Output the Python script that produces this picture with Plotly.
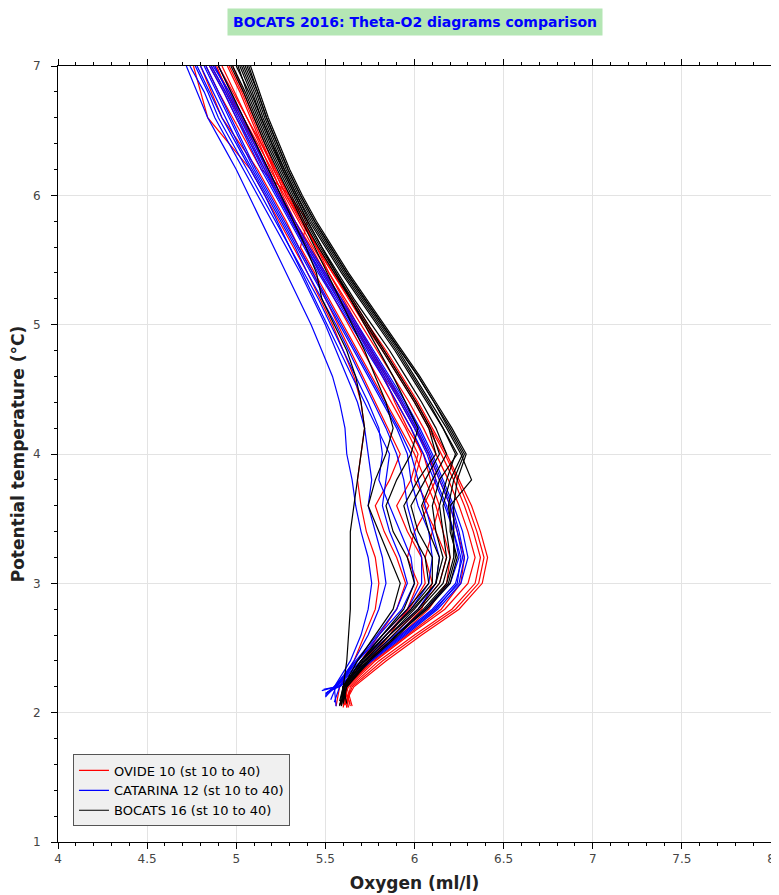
import plotly.graph_objects as go

# Potential temperature levels (deg C) shared by all profiles; the last point of each
# profile uses its own bottom temperature.
THETA_LEVELS = [7.0, 6.8, 6.6, 6.4, 6.2, 6.0, 5.8, 5.6, 5.4, 5.2, 5.0, 4.8, 4.6,
                4.4, 4.2, 4.0, 3.8, 3.6, 3.4, 3.2, 3.0, 2.8, 2.6, 2.4, 2.2]

# ---------------- OVIDE 10 (red) ----------------
OVIDE_BOTTOM = [2.05, 2.04, 2.06, 2.05, 2.04, 2.07, 2.05, 2.04, 2.06, 2.05, 2.06, 2.04]
OVIDE_O2 = [
    [4.98, 5.04, 5.10, 5.16, 5.22, 5.29, 5.37, 5.46, 5.55, 5.65, 5.74, 5.84, 5.93, 6.02, 6.10, 6.18, 6.25, 6.32, 6.37, 6.41, 6.38, 6.25, 6.04, 5.84, 5.66, 5.60],
    [4.95, 5.02, 5.08, 5.14, 5.21, 5.28, 5.36, 5.45, 5.54, 5.63, 5.72, 5.82, 5.91, 6.00, 6.08, 6.15, 6.22, 6.28, 6.33, 6.37, 6.34, 6.21, 6.00, 5.80, 5.64, 5.62],
    [4.92, 4.99, 5.06, 5.13, 5.19, 5.27, 5.35, 5.43, 5.52, 5.61, 5.70, 5.79, 5.88, 5.97, 6.05, 6.12, 6.19, 6.25, 6.30, 6.34, 6.30, 6.17, 5.97, 5.78, 5.63, 5.58],
    [4.88, 4.96, 5.04, 5.12, 5.20, 5.26, 5.33, 5.41, 5.50, 5.59, 5.67, 5.76, 5.85, 5.93, 6.01, 6.08, 6.12, 6.05, 6.12, 6.18, 6.14, 6.02, 5.88, 5.74, 5.61, 5.64],
    [4.85, 4.93, 5.00, 5.08, 5.16, 5.24, 5.31, 5.39, 5.47, 5.55, 5.63, 5.71, 5.79, 5.87, 5.95, 6.02, 5.98, 5.90, 5.96, 6.04, 6.06, 5.97, 5.84, 5.72, 5.60, 5.62],
    [4.80, 4.86, 4.92, 5.02, 5.12, 5.20, 5.28, 5.35, 5.43, 5.50, 5.57, 5.64, 5.71, 5.78, 5.85, 5.92, 5.86, 5.78, 5.83, 5.90, 5.95, 5.90, 5.80, 5.70, 5.60, 5.64],
    [4.76, 4.80, 4.84, 4.96, 5.08, 5.16, 5.24, 5.32, 5.40, 5.47, 5.54, 5.60, 5.66, 5.70, 5.72, 5.70, 5.68, 5.70, 5.73, 5.78, 5.80, 5.78, 5.72, 5.66, 5.58, 5.56],
    [4.90, 4.98, 5.06, 5.14, 5.22, 5.30, 5.38, 5.45, 5.52, 5.60, 5.68, 5.76, 5.84, 5.92, 6.00, 6.08, 6.14, 6.20, 6.24, 6.28, 6.26, 6.15, 5.96, 5.77, 5.62, 5.60],
    [4.86, 4.94, 5.02, 5.10, 5.18, 5.25, 5.32, 5.40, 5.49, 5.57, 5.66, 5.74, 5.82, 5.90, 5.98, 6.04, 6.00, 6.08, 6.00, 5.96, 6.02, 5.96, 5.86, 5.74, 5.62, 5.60],
    [4.83, 4.90, 4.98, 5.06, 5.14, 5.30, 5.40, 5.36, 5.44, 5.52, 5.60, 5.68, 5.76, 5.84, 5.92, 6.00, 6.06, 6.12, 6.16, 6.20, 6.18, 6.08, 5.92, 5.76, 5.62, 5.65],
    [4.96, 5.03, 5.09, 5.15, 5.21, 5.28, 5.37, 5.45, 5.54, 5.64, 5.73, 5.83, 5.92, 6.01, 6.09, 6.17, 6.24, 6.30, 6.35, 6.39, 6.36, 6.23, 6.02, 5.82, 5.65, 5.61],
    [4.89, 4.95, 5.03, 5.11, 5.17, 5.24, 5.33, 5.42, 5.50, 5.58, 5.66, 5.75, 5.83, 5.89, 5.96, 6.05, 6.09, 6.14, 6.10, 6.06, 6.10, 6.04, 5.90, 5.75, 5.61, 5.63],
]

# ---------------- CATARINA 12 (blue) ----------------
CATARINA_BOTTOM = [2.17, 2.15, 2.18, 2.12, 2.16, 2.05, 2.14, 2.17, 2.08, 2.13, 2.16, 2.10]
CATARINA_O2 = [
    [4.90, 4.97, 5.04, 5.11, 5.18, 5.25, 5.33, 5.41, 5.50, 5.59, 5.68, 5.77, 5.86, 5.95, 6.03, 6.10, 6.16, 6.22, 6.27, 6.30, 6.26, 6.13, 5.95, 5.76, 5.58, 5.52],
    [4.88, 4.95, 5.02, 5.09, 5.16, 5.23, 5.31, 5.39, 5.48, 5.57, 5.66, 5.75, 5.84, 5.93, 6.01, 6.08, 6.14, 6.20, 6.24, 6.27, 6.23, 6.10, 5.92, 5.74, 5.57, 5.50],
    [4.85, 4.93, 5.00, 5.07, 5.14, 5.22, 5.30, 5.38, 5.46, 5.55, 5.64, 5.73, 5.82, 5.90, 5.98, 6.05, 6.11, 6.17, 6.22, 6.25, 6.20, 6.06, 5.89, 5.72, 5.56, 5.49],
    [4.83, 4.90, 4.97, 5.04, 5.11, 5.19, 5.27, 5.35, 5.43, 5.51, 5.59, 5.67, 5.75, 5.83, 5.91, 5.98, 6.02, 6.06, 6.10, 6.14, 6.12, 6.02, 5.86, 5.70, 5.55, 5.50],
    [4.80, 4.87, 4.94, 5.01, 5.09, 5.17, 5.25, 5.33, 5.40, 5.48, 5.56, 5.63, 5.70, 5.77, 5.84, 5.90, 5.94, 5.96, 6.00, 6.04, 6.04, 5.96, 5.82, 5.68, 5.55, 5.52],
    [4.78, 4.85, 4.92, 5.00, 5.08, 5.16, 5.23, 5.30, 5.37, 5.44, 5.51, 5.58, 5.65, 5.72, 5.79, 5.86, 5.84, 5.82, 5.86, 5.92, 5.96, 5.90, 5.79, 5.67, 5.55, 5.56],
    [4.72, 4.78, 4.84, 4.92, 5.00, 5.07, 5.14, 5.21, 5.28, 5.35, 5.42, 5.48, 5.54, 5.58, 5.61, 5.62, 5.65, 5.67, 5.70, 5.74, 5.76, 5.74, 5.70, 5.64, 5.55, 5.50],
    [4.74, 4.82, 4.88, 4.96, 5.04, 5.12, 5.20, 5.28, 5.36, 5.43, 5.50, 5.56, 5.62, 5.68, 5.72, 5.74, 5.76, 5.74, 5.78, 5.82, 5.84, 5.80, 5.74, 5.66, 5.56, 5.48],
    [4.86, 4.94, 5.01, 5.08, 5.15, 5.23, 5.31, 5.39, 5.47, 5.56, 5.65, 5.74, 5.83, 5.92, 6.00, 6.07, 6.12, 6.18, 6.22, 6.26, 6.24, 6.12, 5.94, 5.75, 5.58, 5.55],
    [4.82, 4.89, 4.96, 5.03, 5.10, 5.18, 5.26, 5.34, 5.42, 5.50, 5.58, 5.66, 5.74, 5.82, 5.90, 5.96, 5.98, 6.02, 6.08, 6.10, 6.08, 5.98, 5.84, 5.70, 5.56, 5.50],
    [4.87, 4.96, 5.03, 5.10, 5.17, 5.24, 5.32, 5.40, 5.49, 5.58, 5.67, 5.76, 5.85, 5.94, 6.02, 6.09, 6.15, 6.21, 6.25, 6.28, 6.25, 6.11, 5.93, 5.75, 5.57, 5.51],
    [4.77, 4.84, 4.90, 4.98, 5.06, 5.14, 5.22, 5.30, 5.38, 5.46, 5.53, 5.60, 5.67, 5.74, 5.80, 5.82, 5.80, 5.86, 5.92, 5.98, 6.00, 5.93, 5.80, 5.68, 5.56, 5.53],
]

# ---------------- BOCATS 16 (black) ----------------
BOCATS_BOTTOM = [2.08, 2.06, 2.10, 2.07, 2.05, 2.12, 2.06, 2.09, 2.05, 2.08, 2.07, 2.10]
BOCATS_O2 = [
    [5.08, 5.13, 5.18, 5.24, 5.30, 5.37, 5.45, 5.54, 5.63, 5.73, 5.83, 5.93, 6.03, 6.12, 6.21, 6.29, 6.24, 6.22, 6.22, 6.22, 6.18, 6.05, 5.90, 5.74, 5.61, 5.60],
    [5.05, 5.11, 5.16, 5.22, 5.28, 5.35, 5.43, 5.52, 5.61, 5.71, 5.81, 5.91, 6.00, 6.09, 6.18, 6.26, 6.32, 6.20, 6.20, 6.24, 6.20, 6.07, 5.90, 5.74, 5.62, 5.58],
    [5.03, 5.09, 5.14, 5.20, 5.27, 5.34, 5.41, 5.50, 5.59, 5.69, 5.79, 5.89, 5.98, 6.07, 6.16, 6.23, 6.18, 6.14, 6.16, 6.18, 6.14, 6.02, 5.86, 5.72, 5.60, 5.60],
    [5.00, 5.07, 5.13, 5.19, 5.26, 5.33, 5.40, 5.48, 5.57, 5.66, 5.76, 5.86, 5.95, 6.04, 6.12, 6.18, 6.10, 6.04, 6.08, 6.14, 6.12, 5.99, 5.84, 5.70, 5.60, 5.62],
    [4.98, 5.05, 5.11, 5.17, 5.24, 5.31, 5.38, 5.46, 5.55, 5.64, 5.73, 5.82, 5.91, 6.00, 6.08, 6.12, 6.02, 5.94, 5.98, 6.06, 6.08, 5.96, 5.82, 5.70, 5.60, 5.58],
    [4.90, 4.97, 5.04, 5.11, 5.18, 5.25, 5.32, 5.39, 5.45, 5.48, 5.55, 5.62, 5.67, 5.70, 5.72, 5.70, 5.68, 5.66, 5.64, 5.64, 5.64, 5.64, 5.63, 5.62, 5.60, 5.61],
    [4.97, 5.04, 5.10, 5.16, 5.23, 5.30, 5.37, 5.44, 5.51, 5.58, 5.65, 5.72, 5.78, 5.84, 5.88, 5.84, 5.78, 5.74, 5.80, 5.86, 5.92, 5.88, 5.78, 5.68, 5.60, 5.59],
    [5.02, 5.08, 5.14, 5.20, 5.26, 5.33, 5.40, 5.48, 5.56, 5.64, 5.72, 5.80, 5.88, 5.95, 6.02, 5.98, 5.90, 5.84, 5.88, 5.96, 6.00, 5.94, 5.82, 5.70, 5.60, 5.58],
    [5.06, 5.12, 5.17, 5.23, 5.29, 5.36, 5.44, 5.53, 5.62, 5.72, 5.82, 5.92, 6.02, 6.11, 6.19, 6.27, 6.20, 6.16, 6.18, 6.20, 6.16, 6.03, 5.88, 5.73, 5.61, 5.59],
    [5.04, 5.10, 5.15, 5.21, 5.27, 5.34, 5.42, 5.51, 5.60, 5.70, 5.80, 5.90, 5.99, 6.08, 6.16, 6.24, 6.14, 6.10, 6.12, 6.16, 6.12, 6.00, 5.86, 5.72, 5.60, 5.60],
    [5.07, 5.12, 5.17, 5.23, 5.29, 5.36, 5.44, 5.53, 5.62, 5.72, 5.82, 5.92, 6.02, 6.11, 6.20, 6.28, 6.22, 6.19, 6.21, 6.23, 6.19, 6.06, 5.91, 5.75, 5.62, 5.60],
    [5.01, 5.06, 5.12, 5.18, 5.25, 5.32, 5.39, 5.47, 5.56, 5.65, 5.74, 5.83, 5.92, 6.01, 6.09, 6.14, 6.06, 5.98, 6.02, 6.10, 6.10, 5.98, 5.84, 5.71, 5.61, 5.60],
]

X_TICKS = [4, 4.5, 5, 5.5, 6, 6.5, 7, 7.5, 8]
X_TICK_LABELS = ["4", "4.5", "5", "5.5", "6", "6.5", "7", "7.5", "8"]

CRUISES = [
    ("OVIDE 10 (st 10 to 40)", OVIDE_O2, OVIDE_BOTTOM, "#ff0000"),
    ("CATARINA 12 (st 10 to 40)", CATARINA_O2, CATARINA_BOTTOM, "#0000ff"),
    ("BOCATS 16 (st 10 to 40)", BOCATS_O2, BOCATS_BOTTOM, "#000000"),
]

fig = go.Figure()
for name, profiles, bottoms, color in CRUISES:
    for i, (o2, bot) in enumerate(zip(profiles, bottoms)):
        fig.add_trace(go.Scatter(
            x=o2, y=THETA_LEVELS + [bot], mode="lines",
            line=dict(color=color, width=1.2),
            name=name, legendgroup=name, showlegend=(i == 0),
        ))

FONT = "DejaVu Sans"
axis_common = dict(
    showline=True, linecolor="#000000", linewidth=1, mirror="allticks",
    ticks="outside", ticklen=6, tickcolor="#000000",
    showgrid=True, gridcolor="#e3e3e3", gridwidth=1, zeroline=False,
    automargin=False, ticklabeloverflow="allow",
    tickfont=dict(family=FONT, size=12, color="#444444"),
)

fig.update_layout(
    width=771, height=887,
    margin=dict(l=50, r=8, t=58, b=53, autoexpand=False),
    paper_bgcolor="white", plot_bgcolor="white",
    font=dict(family=FONT),
    xaxis=dict(range=[4, 8], tickmode="array", tickvals=X_TICKS, ticktext=X_TICK_LABELS,
               minor=dict(dtick=0.1, tick0=4, ticks="outside", ticklen=3, tickcolor="#000000", showgrid=False),
               title=dict(text="<b>Oxygen (ml/l)</b>", font=dict(family=FONT, size=17, color="#222222"), standoff=11),
               **axis_common),
    yaxis=dict(range=[1, 7], dtick=1, tick0=1, ticklabelstandoff=8,
               minor=dict(dtick=0.2, ticks="outside", ticklen=3, tickcolor="#000000", showgrid=False),
               title=dict(text="<b>Potential temperature (°C)</b>", font=dict(family=FONT, size=17, color="#222222"), standoff=12),
               **axis_common),
    legend=dict(x=0.021, y=0.02, xanchor="left", yanchor="bottom",
                bgcolor="#f0f0f0", bordercolor="#555555", borderwidth=1,
                font=dict(family=FONT, size=13, color="#000000"),
                tracegroupgap=0, itemwidth=30),
    showlegend=True,
    annotations=[dict(
        text="<b>BOCATS 2016: Theta-O2 diagrams comparison</b>",
        xref="paper", yref="paper", x=0.5, y=1.057, xanchor="center", yanchor="middle",
        showarrow=False, bgcolor="#b4e6b4", borderpad=5,
        font=dict(family=FONT, size=14, color="#0000ff"),
    )],
)

fig.write_html("out.html")
